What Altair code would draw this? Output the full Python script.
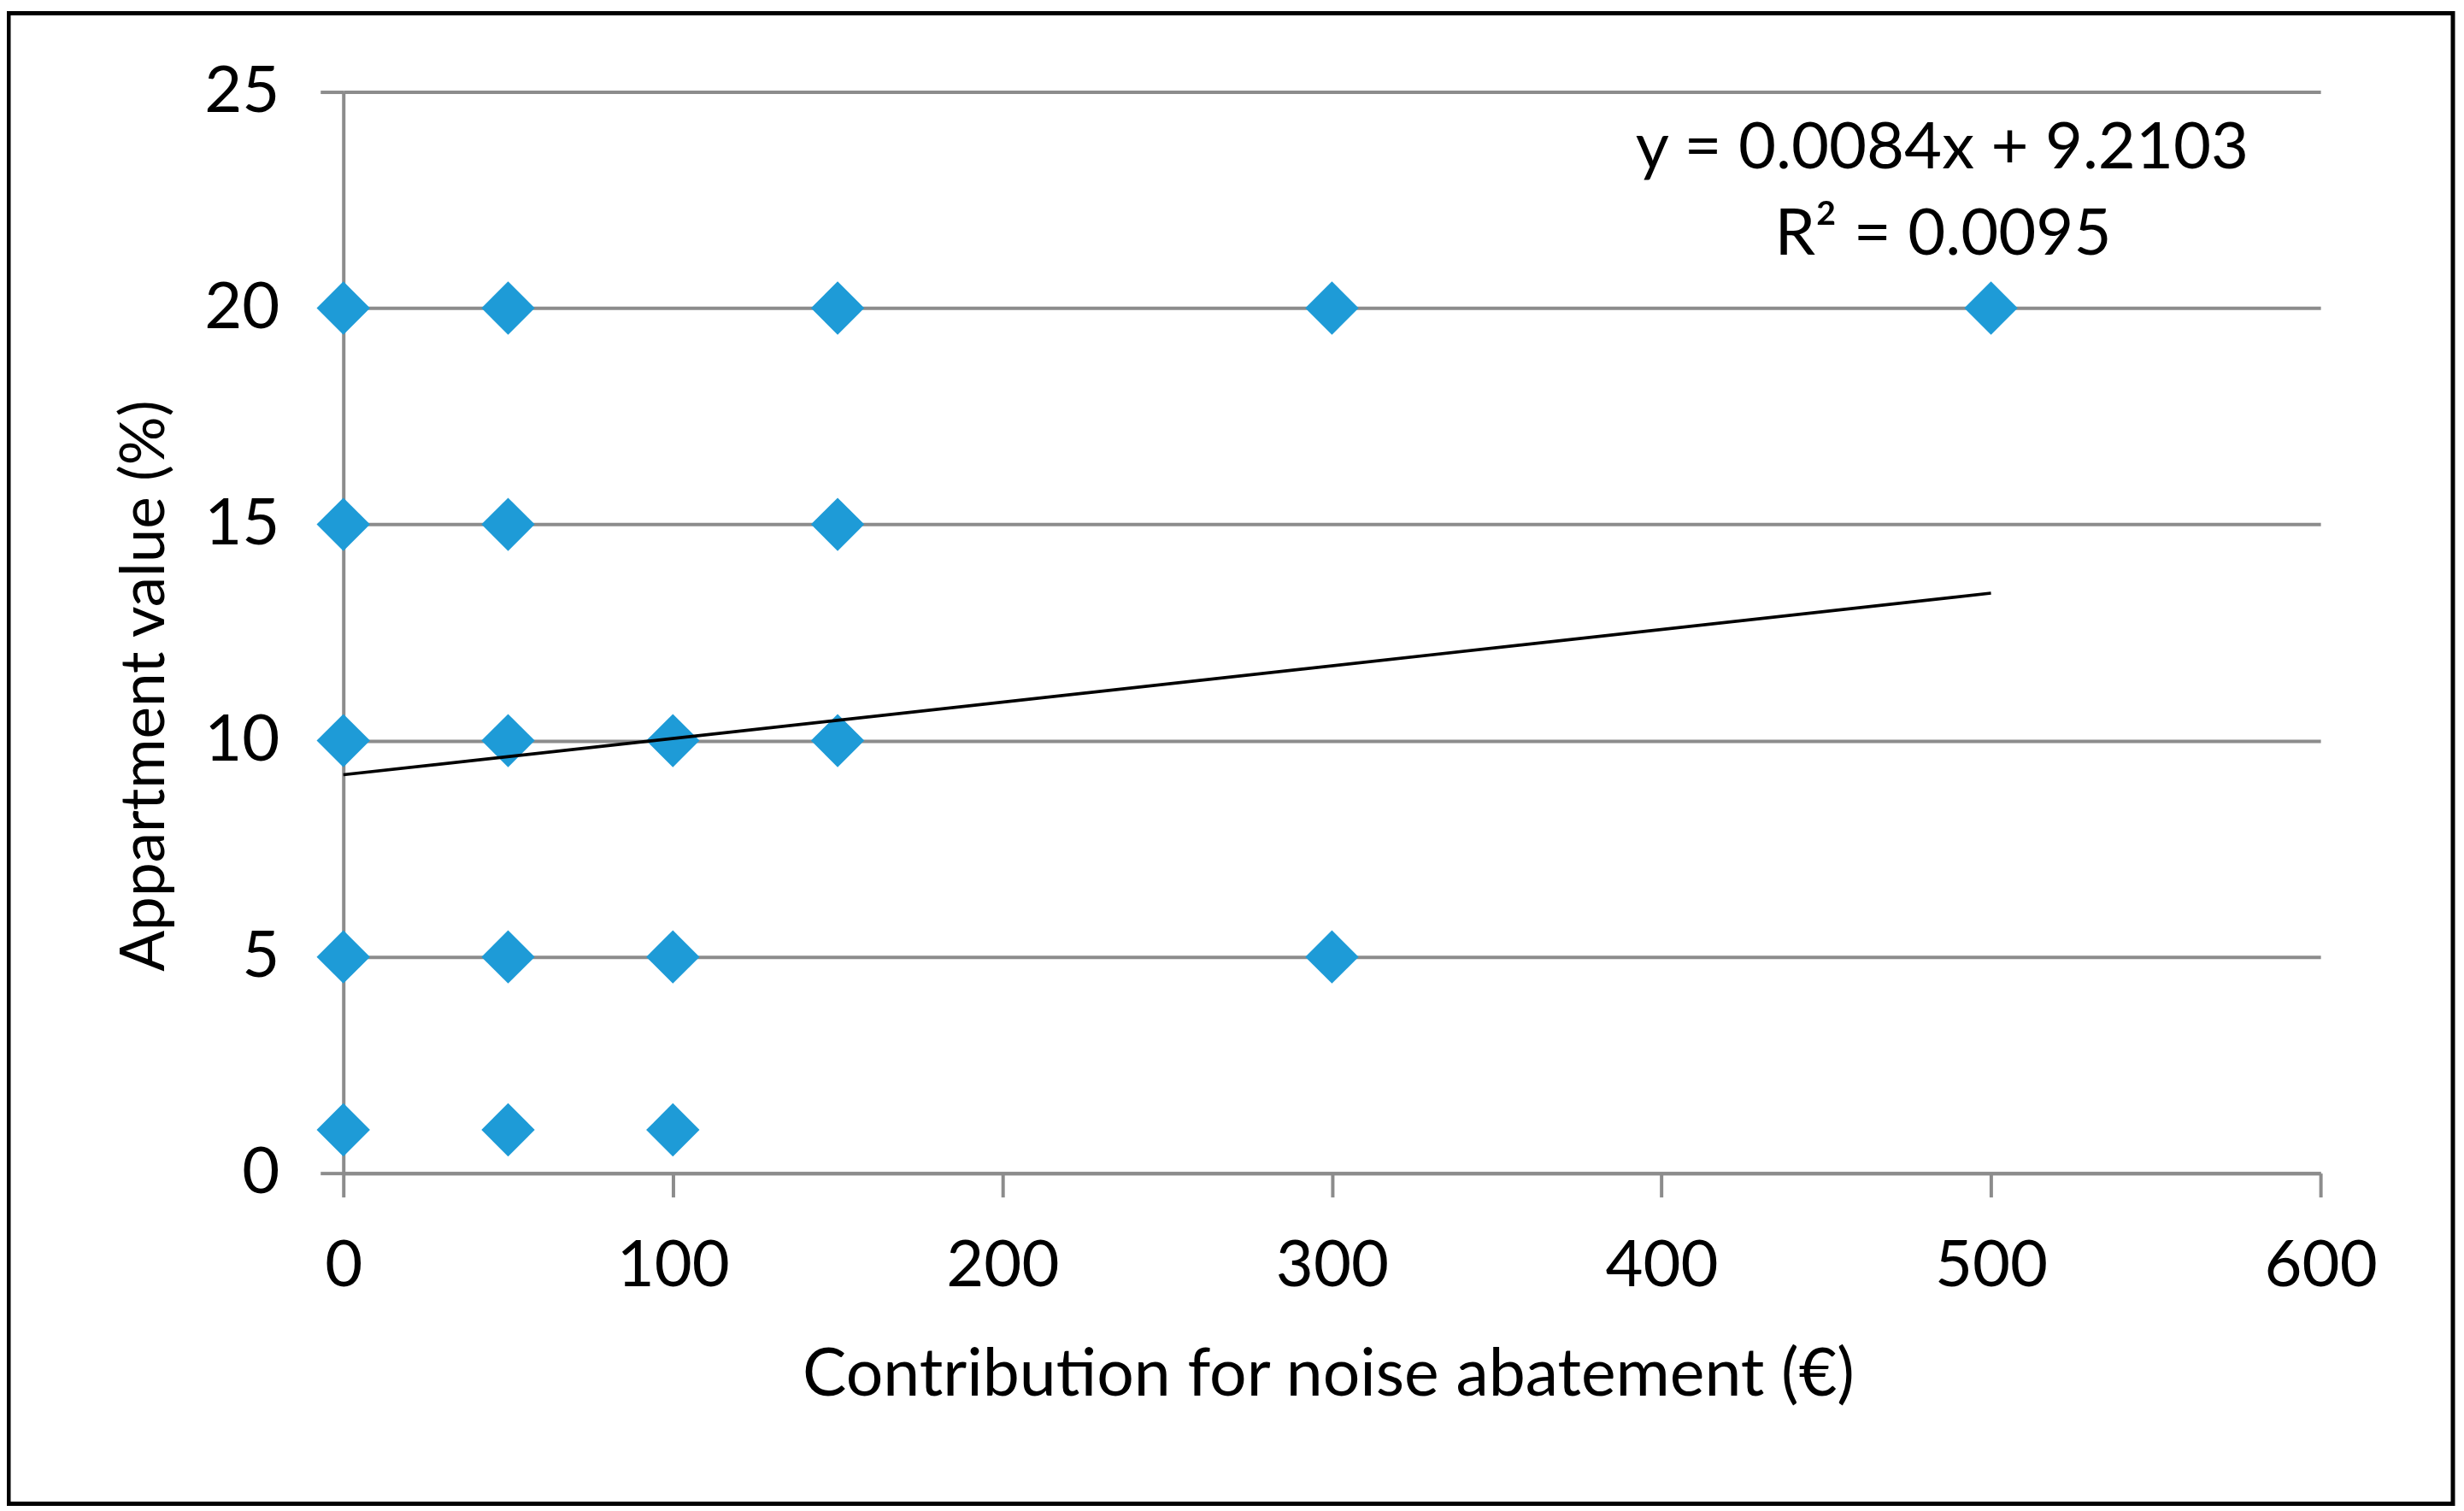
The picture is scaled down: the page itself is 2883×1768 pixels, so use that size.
import altair as alt
import pandas as pd

# Scatter data
contribution = [0, 50, 150, 300, 500,
                0, 50, 150,
                0, 50, 100, 150,
                0, 50, 100, 300,
                0, 50, 100]
value = [20, 20, 20, 20, 20,
         15, 15, 15,
         10, 10, 10, 10,
         5, 5, 5, 5,
         1, 1, 1]

# Linear trendline as printed on the chart (y = 0.0084x + 9.2103), from x=0 to x=500
trend_x = [0, 500]
trend_y = [9.2103, 13.4103]

x_ticks = [0, 100, 200, 300, 400, 500, 600]
y_ticks = [0, 5, 10, 15, 20, 25]

eq_lines = ["y = 0.0084x + 9.2103", "R\u00b2 = 0.0095"]

FONT = "Lato"
FS = 76
GRAY = "#8c8c8c"
BLUE = "#1e9bd7"

pts = pd.DataFrame({"contribution": contribution, "value": value})
trend = pd.DataFrame({"contribution": trend_x, "value": trend_y})
one = pd.DataFrame({"k": [0]})

xscale = alt.Scale(domain=[0, 600], nice=False, zero=True)
yscale = alt.Scale(domain=[0, 25], nice=False, zero=True)

xaxis = alt.Axis(
    title="Contribution for noise abatement (\u20ac)",
    values=x_ticks, grid=False,
    domainColor=GRAY, domainWidth=4, tickColor=GRAY, tickWidth=4, tickSize=28,
    labelFont=FONT, labelFontSize=FS, labelColor="black", labelPadding=44,
    labelFlush=False, labelOverlap=False,
    titleFont=FONT, titleFontSize=77, titleFontWeight="normal", titleColor="black",
    titleX=1153, titleY=260, titleBaseline="alphabetic", titleAlign="center",
)
yaxis = alt.Axis(
    title="Appartment value (%)",
    values=y_ticks, grid=True, gridColor=GRAY, gridWidth=4,
    domainColor=GRAY, domainWidth=4, tickColor=GRAY, tickWidth=4, tickSize=27,
    labelFont=FONT, labelFontSize=FS, labelColor="black", labelPadding=48,
    labelFlush=False, labelOverlap=False,
    titleFont=FONT, titleFontSize=71, titleFontWeight="normal", titleColor="black",
    titleX=-210, titleY=695, titleBaseline="alphabetic", titleAlign="center", titleAngle=270,
)

points = alt.Chart(pts).mark_point(
    shape="diamond", filled=True, size=3900, color=BLUE, opacity=1
).encode(
    x=alt.X("contribution:Q", scale=xscale, axis=xaxis),
    y=alt.Y("value:Q", scale=yscale, axis=yaxis),
)

line = alt.Chart(trend).mark_line(color="black", strokeWidth=3.6).encode(
    x=alt.X("contribution:Q", scale=xscale),
    y=alt.Y("value:Q", scale=yscale),
)

eq1 = alt.Chart(one).mark_text(
    font=FONT, fontSize=FS, color="black", align="center", baseline="alphabetic"
).encode(x=alt.value(1872), y=alt.value(90), text=alt.value(eq_lines[0]))

eq2 = alt.Chart(one).mark_text(
    font=FONT, fontSize=FS, color="black", align="center", baseline="alphabetic"
).encode(x=alt.value(1873), y=alt.value(191), text=alt.value(eq_lines[1]))

frame = alt.Chart(one).mark_rect(
    filled=False, stroke="black", strokeWidth=5, fillOpacity=0
).encode(
    x=alt.value(-392), x2=alt.value(2470), y=alt.value(-92), y2=alt.value(1653)
)

chart = alt.layer(points, line, eq1, eq2, frame).properties(
    width=2315, height=1266,
    autosize=alt.AutoSizeParams(type="none"),
    padding={"left": 394, "top": 99, "right": 160, "bottom": 390},
    background="white",
).configure_view(stroke=None)

chart.save("out.html", embed_options={"renderer": "svg", "actions": False})
